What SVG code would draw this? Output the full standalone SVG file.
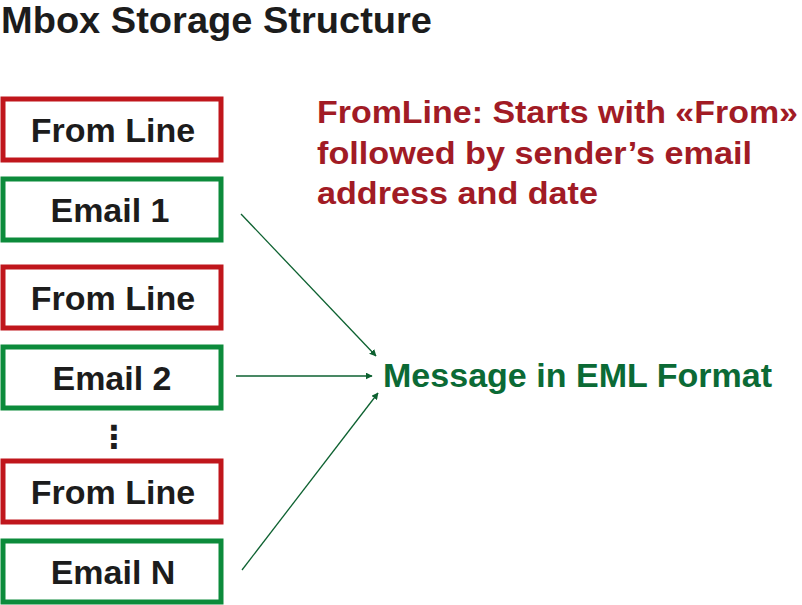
<svg xmlns="http://www.w3.org/2000/svg" width="802" height="605" viewBox="0 0 802 605">
<style>
.box{fill:#fff;stroke-width:5}
.red{stroke:#c0161c}
.grn{stroke:#0c8b3b}
.bt{font-family:"Liberation Sans",Arial,sans-serif;font-weight:bold;font-size:34px;fill:#1c1c1c;text-anchor:middle}
.title{font-family:"Liberation Sans",Arial,sans-serif;font-weight:bold;font-size:37px;fill:#1c1c1c}
.note{font-family:"Liberation Sans",Arial,sans-serif;font-weight:bold;font-size:32px;fill:#a11b25}
.msg{font-family:"Liberation Sans",Arial,sans-serif;font-weight:bold;font-size:33px;fill:#0b6a35}
.ar{stroke:#0d6130;stroke-width:1.3;fill:none;marker-end:url(#ah)}
</style>
<defs>
<marker id="ah" viewBox="0 0 10 10" refX="9" refY="5" markerWidth="7" markerHeight="7" markerUnits="userSpaceOnUse" orient="auto">
<path d="M0,0 L10,5 L0,10 z" fill="#0d6130"/>
</marker>
</defs>
<rect width="802" height="605" fill="#fff"/>
<text class="title" x="1" y="33" textLength="431" lengthAdjust="spacingAndGlyphs">Mbox Storage Structure</text>

<g id="from1"><rect class="box red" x="3" y="99" width="218" height="61"/><text class="bt" x="113" y="142">From Line</text></g>
<g id="email1"><rect class="box grn" x="3" y="179" width="218" height="61"/><text class="bt" x="110" y="222">Email 1</text></g>
<g id="from2"><rect class="box red" x="3" y="267" width="218" height="61"/><text class="bt" x="113" y="310">From Line</text></g>
<g id="email2"><rect class="box grn" x="3" y="347" width="218" height="61"/><text class="bt" x="112" y="390">Email 2</text></g>
<g id="dots"><text x="114" y="448" font-family="DejaVu Sans,sans-serif" font-weight="bold" font-size="32" fill="#1c1c1c" text-anchor="middle">⋮</text></g>
<g id="from3"><rect class="box red" x="3" y="461" width="218" height="61"/><text class="bt" x="113" y="504">From Line</text></g>
<g id="emailN"><rect class="box grn" x="3" y="541" width="218" height="61"/><text class="bt" x="113" y="584">Email N</text></g>

<g id="note">
<text class="note" x="317" y="123" textLength="481" lengthAdjust="spacingAndGlyphs">FromLine: Starts with «From»</text>
<text class="note" x="317" y="164" textLength="435" lengthAdjust="spacingAndGlyphs">followed by sender’s email</text>
<text class="note" x="317" y="204" textLength="281" lengthAdjust="spacingAndGlyphs">address and date</text>
</g>
<g id="eml"><text class="msg" x="383" y="387" textLength="389" lengthAdjust="spacingAndGlyphs">Message in EML Format</text></g>

<g id="connectors">
<line class="ar" x1="241" y1="214" x2="376" y2="356"/>
<line class="ar" x1="236" y1="376" x2="372" y2="376"/>
<line class="ar" x1="242" y1="570" x2="378" y2="393"/>
</g>
</svg>
